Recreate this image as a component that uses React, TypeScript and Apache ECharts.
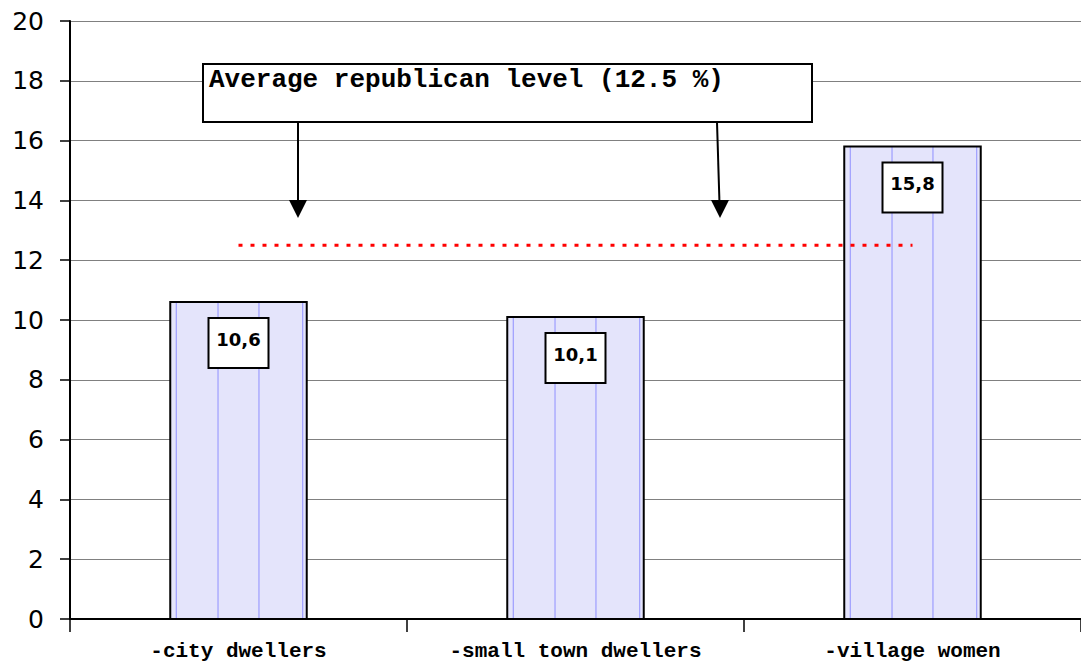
import React, { useEffect, useRef } from "react";
import * as echarts from "echarts";

const categories = ["-city dwellers", "-small town dwellers", "-village women"];
const values = [10.6, 10.1, 15.8];
const avgLevel = 12.5;
const annotationText = "Average republican level (12.5 %)";
const yTicks = { min: 0, max: 20, interval: 2 };

export default function App() {
  const ref = useRef<HTMLDivElement>(null);
  useEffect(() => {
    if (!ref.current) return;
    const chart = echarts.init(ref.current, undefined, { renderer: "svg" });
    const option: any = {
      animation: false,
      backgroundColor: "#ffffff",
      grid: { left: 70, right: -6, top: 21, bottom: 48, containLabel: false },
      xAxis: {
        type: "category",
        data: categories,
        boundaryGap: true,
        axisLine: { show: true, lineStyle: { color: "#000", width: 2 } },
        axisTick: { show: true, length: 13, lineStyle: { color: "#000", width: 1.5 } },
        axisLabel: {
          color: "#000",
          fontFamily: "Liberation Mono",
          fontWeight: "bold",
          fontSize: 21,
          margin: 22,
        },
        splitLine: { show: false },
      },
      yAxis: {
        type: "value",
        min: yTicks.min,
        max: yTicks.max,
        interval: yTicks.interval,
        axisLine: { show: true, lineStyle: { color: "#000", width: 2 } },
        axisTick: { show: true, length: 10, lineStyle: { color: "#000", width: 1.5 } },
        axisLabel: {
          color: "#000",
          fontFamily: "DejaVu Sans",
          fontSize: 25,
          margin: 26,
        },
        splitLine: { show: true, lineStyle: { color: "#808080", width: 1 } },
      },
      series: [
        {
          type: "custom",
          data: values.map((v, i) => [i, v]),
          z: 2,
          renderItem: (params: any, api: any) => {
            const top = api.coord([api.value(0), api.value(1)]);
            const base = api.coord([api.value(0), 0]);
            const w = api.size([1, 0])[0] * 0.405;
            const left = top[0] - w / 2;
            const h = base[1] - top[1];
            const lineStyle = { stroke: "#8f8fff", lineWidth: 1 };
            const lx = [left + 6, left + w * 0.35, left + w * 0.65, left + w - 4];
            const label = String(api.value(1)).replace(".", ",");
            const boxTop = top[1] + 16;
            return {
              type: "group",
              children: [
                { type: "rect", shape: { x: left, y: top[1], width: w, height: h }, style: { fill: "#e4e4fb" } },
                ...lx.map((x) => ({
                  type: "line",
                  shape: { x1: x, y1: top[1], x2: x, y2: base[1] },
                  style: lineStyle,
                })),
                {
                  type: "rect",
                  shape: { x: left, y: top[1], width: w, height: h },
                  style: { fill: "none", stroke: "#000", lineWidth: 2 },
                },
                {
                  type: "rect",
                  shape: { x: top[0] - 30, y: boxTop, width: 60, height: 50 },
                  style: { fill: "#fff", stroke: "#000", lineWidth: 2 },
                },
                {
                  type: "text",
                  x: top[0],
                  y: boxTop + 21,
                  style: {
                    text: label,
                    fill: "#000",
                    font: "bold 18px 'DejaVu Sans'",
                    align: "center",
                    verticalAlign: "middle",
                  },
                },
              ],
            };
          },
        },
        {
          type: "line",
          data: categories.map(() => avgLevel),
          symbol: "none",
          z: 5,
          lineStyle: { color: "#ff0000", width: 3, type: [4, 8] },
        },
      ],
      graphic: [
        {
          type: "rect",
          shape: { x: 203, y: 64, width: 609, height: 58 },
          style: { fill: "#fff", stroke: "#000", lineWidth: 2 },
          z: 10,
        },
        {
          type: "text",
          x: 209,
          y: 80,
          style: {
            text: annotationText,
            fill: "#000",
            font: "bold 26px 'Liberation Mono'",
            verticalAlign: "middle",
          },
          z: 11,
        },
        {
          type: "line",
          shape: { x1: 298, y1: 122, x2: 298, y2: 204 },
          style: { stroke: "#000", lineWidth: 2 },
          z: 10,
        },
        {
          type: "polygon",
          shape: { points: [[289, 200], [307, 200], [298, 218]] },
          style: { fill: "#000" },
          z: 10,
        },
        {
          type: "line",
          shape: { x1: 717, y1: 122, x2: 719.5, y2: 204 },
          style: { stroke: "#000", lineWidth: 2 },
          z: 10,
        },
        {
          type: "polygon",
          shape: { points: [[711, 200], [729, 200], [720, 218]] },
          style: { fill: "#000" },
          z: 10,
        },
      ],
    };
    chart.setOption(option);
    return () => chart.dispose();
  }, []);
  return (
    <div
      ref={ref}
      style={{ position: "absolute", left: 0, top: 0, width: 1081, height: 667 }}
    />
  );
}
